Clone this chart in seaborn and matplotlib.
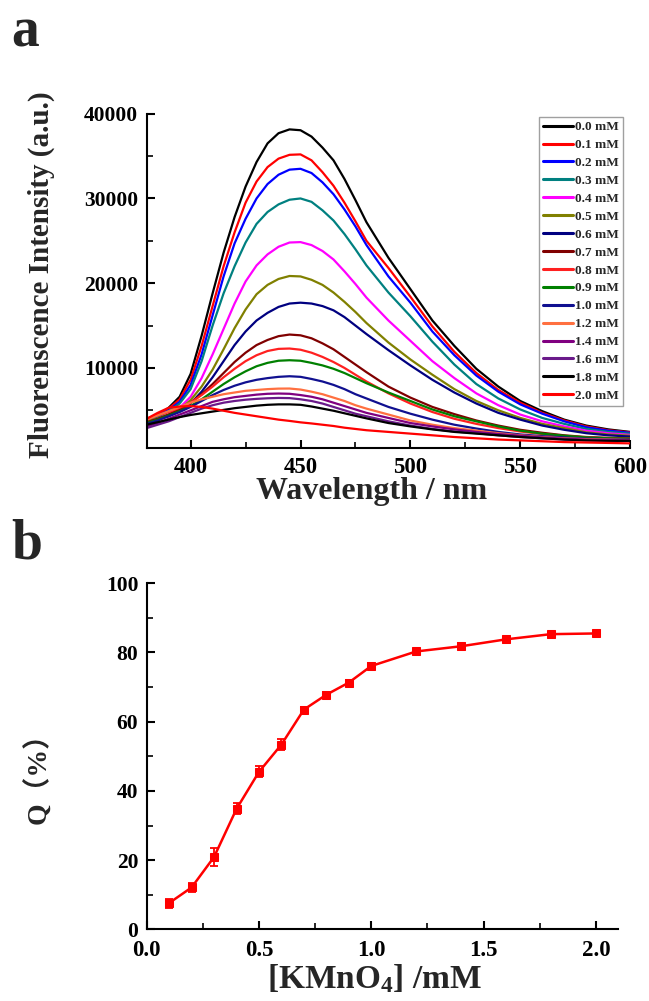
import numpy as np
import pandas as pd
import seaborn as sns
import matplotlib.pyplot as plt
from matplotlib.ticker import MultipleLocator

# ---------------- data: panel a ----------------
wavelength = [380, 385, 390, 395, 400, 405, 410, 415, 420, 425, 430, 435, 440, 445, 450,
              455, 460, 465, 470, 475, 480, 490, 500, 510, 520, 530, 540, 550, 560, 570,
              580, 590, 600]

conc_labels = ["0.0 mM", "0.1 mM", "0.2 mM", "0.3 mM", "0.4 mM", "0.5 mM", "0.6 mM", "0.7 mM",
               "0.8 mM", "0.9 mM", "1.0 mM", "1.2 mM", "1.4 mM", "1.6 mM", "1.8 mM", "2.0 mM"]

I_00 = [3700, 4400, 5300, 6600, 9300, 13800, 18800, 23600, 27800, 31400, 34300, 36500, 37700, 38150, 38050,
        37300, 36000, 34500, 32300, 29800, 27200, 23000, 19300, 15600, 12600, 9900, 7800, 6100, 4900, 3900,
        3200, 2750, 2450]
I_01 = [4000, 4500, 5200, 6300, 8600, 12600, 17300, 22000, 26000, 29500, 32000, 33700, 34700, 35150, 35200,
        34500, 33100, 31500, 29500, 27300, 25000, 21800, 18400, 14900, 11900, 9400, 7400, 5900, 4700, 3800,
        3100, 2650, 2400]
I_02 = [3800, 4300, 5000, 6000, 8000, 11600, 16200, 20800, 24700, 27600, 30000, 31700, 32800, 33400, 33500,
        33000, 31900, 30500, 28700, 26700, 24500, 20800, 17700, 14300, 11500, 9100, 7200, 5700, 4600, 3700,
        3000, 2600, 2350]
I_03 = [3700, 4200, 4900, 5800, 7500, 10800, 15000, 18800, 22000, 24800, 27000, 28400, 29300, 29850, 30000,
        29600, 28600, 27400, 25800, 24000, 22100, 18900, 16100, 13100, 10400, 8100, 6400, 5100, 4100, 3400,
        2800, 2450, 2250]
I_04 = [3600, 4000, 4500, 5300, 6600, 8800, 11600, 14600, 17600, 20200, 22100, 23400, 24300, 24800, 24850,
        24500, 23800, 22800, 21400, 19900, 18300, 15600, 13200, 10800, 8800, 7000, 5600, 4500, 3700, 3100,
        2600, 2300, 2100]
I_05 = [3700, 4000, 4500, 5100, 6200, 7800, 9800, 12200, 14700, 16900, 18700, 19800, 20500, 20850, 20800,
        20400, 19800, 18900, 17800, 16600, 15300, 13000, 11000, 9200, 7500, 6100, 5000, 4100, 3400, 2900,
        2400, 2150, 2000]
I_06 = [3500, 3900, 4300, 4900, 5800, 7200, 8900, 10800, 12700, 14300, 15600, 16500, 17200, 17600, 17700,
        17600, 17300, 16800, 16000, 15000, 14000, 12100, 10300, 8600, 7100, 5800, 4700, 3900, 3200, 2700,
        2300, 2050, 1900]
I_07 = [3600, 4000, 4500, 5100, 5900, 6900, 8100, 9400, 10700, 11800, 12700, 13300, 13750, 13940, 13850,
        13500, 12900, 12200, 11300, 10400, 9500, 7800, 6500, 5400, 4550, 3800, 3200, 2700, 2350, 2050,
        1850, 1750, 1700]
I_08 = [4000, 4400, 4800, 5300, 5900, 6800, 7800, 8900, 9900, 10800, 11500, 12000, 12250, 12290, 12150,
        11800, 11300, 10700, 10000, 9200, 8400, 7000, 5800, 4800, 4000, 3400, 2900, 2500, 2200, 1950,
        1800, 1700, 1650]
I_09 = [3500, 3900, 4400, 4900, 5500, 6300, 7200, 8100, 8900, 9600, 10200, 10600, 10850, 10910, 10850,
        10600, 10300, 9900, 9400, 8800, 8200, 7100, 6100, 5100, 4300, 3700, 3100, 2600, 2250, 2000,
        1800, 1700, 1650]
I_10 = [3400, 3800, 4300, 4800, 5400, 6100, 6800, 7400, 7900, 8300, 8600, 8800, 8950, 9020, 8950,
        8700, 8400, 8000, 7500, 6900, 6400, 5400, 4600, 3900, 3300, 2850, 2450, 2150, 1950, 1800,
        1650, 1600, 1550]
I_12 = [3900, 4400, 4900, 5400, 5900, 6300, 6600, 6900, 7100, 7300, 7400, 7500, 7560, 7570, 7450,
        7200, 6900, 6500, 6100, 5600, 5200, 4500, 3800, 3300, 2900, 2600, 2300, 2050, 1850, 1700,
        1600, 1550, 1500]
I_14 = [3100, 3500, 4000, 4500, 5000, 5500, 6000, 6300, 6550, 6700, 6850, 6950, 6980, 6950, 6800,
        6600, 6300, 5900, 5500, 5100, 4700, 4100, 3500, 3100, 2750, 2450, 2200, 2000, 1800, 1650,
        1550, 1500, 1450]
I_16 = [2900, 3300, 3700, 4200, 4700, 5200, 5600, 5900, 6100, 6250, 6350, 6420, 6460, 6440, 6300,
        6100, 5800, 5400, 5000, 4600, 4300, 3700, 3200, 2800, 2500, 2300, 2050, 1850, 1700, 1550,
        1450, 1400, 1400]
I_18 = [3300, 3600, 3900, 4200, 4450, 4650, 4850, 5050, 5250, 5400, 5550, 5650, 5700, 5700, 5650,
        5450, 5200, 4950, 4650, 4350, 4050, 3500, 3100, 2750, 2450, 2250, 2050, 1850, 1700, 1550,
        1450, 1400, 1400]
I_20 = [4000, 4700, 5300, 5450, 5500, 5400, 5200, 4950, 4700, 4500, 4300, 4100, 3900, 3750, 3580,
        3450, 3300, 3150, 2950, 2800, 2650, 2450, 2250, 2050, 1850, 1700, 1550, 1450, 1350, 1250,
        1200, 1150, 1100]

series_a = [I_00, I_01, I_02, I_03, I_04, I_05, I_06, I_07, I_08, I_09, I_10, I_12, I_14, I_16, I_18, I_20]

line_colors = ["#000000", "#ff0000", "#0000ff", "#008080", "#ff00ff", "#808000", "#000080", "#800000",
               "#ff2020", "#008000", "#101090", "#ff7040", "#800080", "#6a1a8a", "#000000", "#ff0000"]

# ---------------- data: panel b ----------------
kmno4 = [0.1, 0.2, 0.3, 0.4, 0.5, 0.6, 0.7, 0.8, 0.9, 1.0, 1.2, 1.4, 1.6, 1.8, 2.0]
Q = [7.6, 12.1, 20.9, 34.8, 45.5, 53.4, 63.5, 67.8, 71.3, 76.1, 80.3, 81.8, 83.8, 85.3, 85.5]
Q_err = [1.3, 1.3, 2.5, 1.6, 1.6, 1.6, 0.8, 0.8, 0.8, 0.9, 0.7, 0.8, 0.7, 0.7, 0.6]

# ---------------- style ----------------
sns.set_theme(style="ticks")
plt.rcParams["font.family"] = ["Liberation Serif", "Noto Sans CJK SC"]
plt.rcParams["font.weight"] = "bold"
plt.rcParams["axes.labelweight"] = "bold"
plt.rcParams["mathtext.default"] = "regular"

fig = plt.figure(figsize=(6.49, 10.01), dpi=100)
ax_a = fig.add_axes([0.226, 0.552, 0.745, 0.3344])
ax_b = fig.add_axes([0.226, 0.0716, 0.7267, 0.3457])

# ---------------- panel a ----------------
df_a = pd.DataFrame({
    "wl": np.tile(wavelength, len(series_a)),
    "I": np.concatenate([np.asarray(s, float) for s in series_a]),
    "conc": np.repeat(conc_labels, len(wavelength)),
})
sns.lineplot(data=df_a, x="wl", y="I", hue="conc", hue_order=conc_labels,
             palette=dict(zip(conc_labels, line_colors)), linewidth=1.6, ax=ax_a,
             legend=True, sort=False)

ax_a.set_xlim(380, 600)
ax_a.set_ylim(500, 40000)
ax_a.xaxis.set_major_locator(MultipleLocator(50))
ax_a.xaxis.set_minor_locator(MultipleLocator(25))
ax_a.yaxis.set_major_locator(MultipleLocator(10000))
ax_a.yaxis.set_minor_locator(MultipleLocator(5000))

ax_b.set_xlim(0, 2.1)
ax_b.set_ylim(0, 100)
ax_b.xaxis.set_major_locator(MultipleLocator(0.5))
ax_b.xaxis.set_minor_locator(MultipleLocator(0.25))
ax_b.yaxis.set_major_locator(MultipleLocator(20))
ax_b.yaxis.set_minor_locator(MultipleLocator(10))

for ax in (ax_a, ax_b):
    sns.despine(ax=ax)
    for sp in ("left", "bottom"):
        ax.spines[sp].set_linewidth(1.5)
        ax.spines[sp].set_color("black")
    ax.tick_params(which="major", direction="in", length=6, width=1.5, colors="black")
    ax.tick_params(which="minor", direction="in", length=4, width=1.2, colors="black")
    ax.tick_params(axis="x", which="major", labelsize=16.5, pad=6)
    ax.tick_params(axis="y", which="major", labelsize=15.5, pad=6)

ax_a.set_xlabel("Wavelength / nm", fontsize=23, fontweight="bold")
ax_a.set_ylabel("Fluorenscence Intensity (a.u.)", fontsize=21, fontweight="bold")
ax_a.xaxis.set_label_coords(0.466, -0.085)
ax_a.yaxis.set_label_coords(-0.19, 0.52)

leg = ax_a.legend(loc="upper right", bbox_to_anchor=(0.985, 0.99), frameon=True, fancybox=False,
                  handlelength=2.3, handletextpad=0.15, labelspacing=0.43,
                  borderpad=0.3, borderaxespad=0.0, prop={"weight": "bold", "size": 9.5})
leg.get_frame().set_edgecolor("#888888")
leg.get_frame().set_linewidth(1.0)
for h in leg.get_lines():
    h.set_linewidth(2.2)

# ---------------- panel b ----------------
df_b = pd.DataFrame({"c": kmno4, "Q": Q})
ax_b.errorbar(kmno4, Q, yerr=Q_err, fmt="none", ecolor="#ff0000", elinewidth=1.3, capsize=3, capthick=1.3)
sns.lineplot(data=df_b, x="c", y="Q", color="#ff0000", linewidth=1.8, marker="s", markersize=6,
             markeredgecolor="#ff0000", ax=ax_b)
ax_b.set_xticks([0.0, 0.5, 1.0, 1.5, 2.0])
ax_b.set_xticklabels(["0.0", "0.5", "1.0", "1.5", "2.0"])
ax_b.tick_params(axis="x", which="major", pad=8)

for ax in (ax_a, ax_b):
    for lab in ax.get_xticklabels() + ax.get_yticklabels():
        lab.set_fontweight("bold")

ax_b.set_xlabel("[KMnO$_4$] /mM", fontsize=24, fontweight="bold")
ax_b.set_ylabel("Q（%）", fontsize=20, fontweight="bold")
ax_b.xaxis.set_label_coords(0.484, -0.095)
ax_b.yaxis.set_label_coords(-0.2, 0.455)

# panel letters
fig.text(0.018, 0.954, "a", fontsize=40, fontweight="bold", ha="left", va="baseline")
fig.text(0.018, 0.442, "b", fontsize=40, fontweight="bold", ha="left", va="baseline")

fig.savefig("out.png", dpi=100)
